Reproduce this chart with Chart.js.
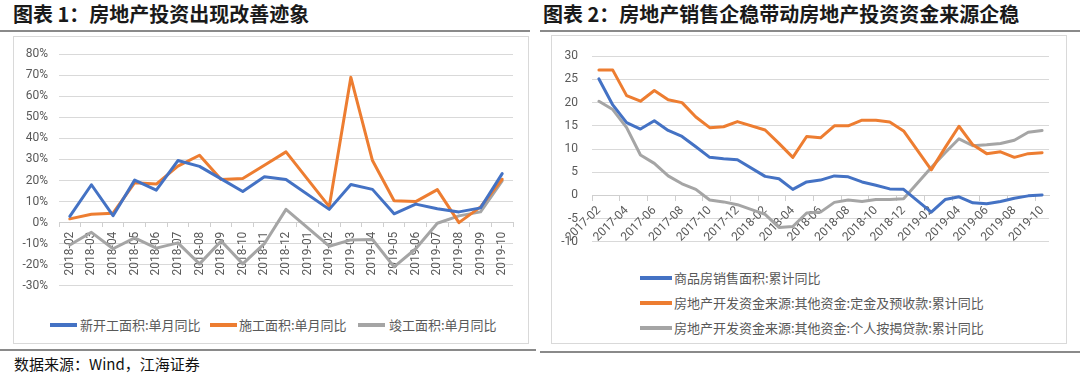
<!DOCTYPE html>
<html><head><meta charset="utf-8">
<script src="https://cdn.jsdelivr.net/npm/chart.js@4.4.1/dist/chart.umd.min.js"></script>
<style>
body{margin:0;background:#fff;width:1080px;height:374px;overflow:hidden;position:relative;font-family:"Noto Sans CJK SC",sans-serif;}
.abs{position:absolute}
.title{font-size:20px;font-weight:bold;line-height:20px;color:#1a1a1a;white-space:nowrap}
.hline{height:2px;background:#8a8a8a}
.box{border:1px solid #d9d9d9;box-sizing:border-box}
.leg{font-size:13px;color:#595959;line-height:16px;white-space:nowrap}
.sw{height:4px}
.src{font-size:15px;line-height:16px;color:#111;white-space:nowrap}
</style></head>
<body>
<div class="abs title" style="left:13px;top:4px">图表 1：房地产投资出现改善迹象</div>
<div class="abs hline" style="left:0;top:30px;width:530px"></div>
<div class="abs box" style="left:13px;top:36px;width:516px;height:308px"></div>
<canvas id="c1" class="abs" width="516" height="268" style="left:13px;top:36px"></canvas>
<div class="abs sw" style="left:50px;top:323px;width:27px;background:#4472C4"></div>
<div class="abs leg" style="left:80px;top:317px">新开工面积:单月同比</div>
<div class="abs sw" style="left:210px;top:323px;width:27px;background:#ED7D31"></div>
<div class="abs leg" style="left:239px;top:317px">施工面积:单月同比</div>
<div class="abs sw" style="left:358px;top:323px;width:27px;background:#A5A5A5"></div>
<div class="abs leg" style="left:389px;top:317px">竣工面积:单月同比</div>
<div class="abs hline" style="left:0;top:349px;width:536px"></div>
<div class="abs src" style="left:14px;top:356px">数据来源：Wind，江海证券</div>

<div class="abs title" style="left:543px;top:4px">图表 2：房地产销售企稳带动房地产投资资金来源企稳</div>
<div class="abs hline" style="left:540px;top:30px;width:540px"></div>
<div class="abs box" style="left:551px;top:35px;width:516px;height:309px"></div>
<canvas id="c2" class="abs" width="516" height="228" style="left:551px;top:35px"></canvas>
<div class="abs sw" style="left:640px;top:276px;width:32px;background:#4472C4"></div>
<div class="abs leg" style="left:674px;top:270px">商品房销售面积:累计同比</div>
<div class="abs sw" style="left:640px;top:301px;width:32px;background:#ED7D31"></div>
<div class="abs leg" style="left:674px;top:295px">房地产开发资金来源:其他资金:定金及预收款:累计同比</div>
<div class="abs sw" style="left:640px;top:326px;width:32px;background:#A5A5A5"></div>
<div class="abs leg" style="left:674px;top:320px">房地产开发资金来源:其他资金:个人按揭贷款:累计同比</div>
<div class="abs hline" style="left:540px;top:351px;width:540px"></div>

<script>
// ---- Chart 1 data ----
const categories1 = ['2018-02','2018-03','2018-04','2018-05','2018-06','2018-07','2018-08','2018-09','2018-10','2018-11','2018-12','2019-01','2019-02','2019-03','2019-04','2019-05','2019-06','2019-07','2019-08','2019-09','2019-10'];
const newStart = [3, 18, 3.3, 20.2, 15.4, 29.5, 26.7, 20.8, 14.8, 21.8, 20.5, null, 6.3, 18.1, 15.8, 4.2, 8.8, 6.6, 5.1, 7, 23.3];
const underConstruction = [1.8, 4, 4.5, 19, 18.3, 26.8, 32, 20.5, 21, 27.3, 33.6, null, 7.6, 69, 29.5, 10.4, 10, 15.7, 0, 7.5, 20.6];
const completed = [-10.6, -4.6, -12.4, -7.2, -12.1, -9.6, -19.6, -8.7, -19.6, -10, 6.3, null, -11.2, -8.2, -8, -21, -12.4, -0.3, 3.2, 5.1, 19.8];
const yTicks1 = {min: -30, max: 80, step: 10};
const names1 = ['新开工面积:单月同比','施工面积:单月同比','竣工面积:单月同比'];

// ---- Chart 2 data ----
const categories2 = ['2017-02','2017-03','2017-04','2017-05','2017-06','2017-07','2017-08','2017-09','2017-10','2017-11','2017-12','2018-01','2018-02','2018-03','2018-04','2018-05','2018-06','2018-07','2018-08','2018-09','2018-10','2018-11','2018-12','2019-01','2019-02','2019-03','2019-04','2019-05','2019-06','2019-07','2019-08','2019-09','2019-10'];
const salesArea = [25.1, 19.5, 15.7, 14.3, 16.1, 14.0, 12.7, 10.5, 8.2, 7.9, 7.7, null, 4.1, 3.6, 1.3, 2.9, 3.3, 4.2, 4.0, 2.9, 2.2, 1.4, 1.3, null, -3.6, -0.9, -0.3, -1.6, -1.8, -1.3, -0.6, -0.1, 0.1];
const deposits = [27.0, 27.0, 21.5, 20.3, 22.6, 20.6, 20.0, 16.9, 14.6, 14.8, 15.9, null, 14.1, 11.2, 8.2, 12.7, 12.4, 15.0, 15.0, 16.2, 16.2, 15.8, 13.9, null, 5.5, 10.3, 14.9, 10.9, 9.0, 9.4, 8.2, 9.0, 9.2];
const mortgages = [20.3, 18.5, 14.6, 8.7, 6.9, 4.2, 2.5, 1.3, -1.0, -1.4, -2.0, null, -4.1, -6.9, -6.7, -3.8, -3.6, -1.5, -1.0, -1.3, -0.9, -0.9, -0.7, null, 6.0, 9.2, 12.2, 10.7, 10.9, 11.2, 11.9, 13.6, 14.0];
const yTicks2 = {min: -10, max: 30, step: 5};
const names2 = ['商品房销售面积:累计同比','房地产开发资金来源:其他资金:定金及预收款:累计同比','房地产开发资金来源:其他资金:个人按揭贷款:累计同比'];

const colors = ['#4472C4', '#ED7D31', '#A5A5A5'];
const tickFont = {family: 'Roboto', size: 12};
const gridColor = '#d9d9d9';
const axisColor = '#cfcfcf';

function ds(label, data, i) {
  return {label, data, borderColor: colors[i], backgroundColor: colors[i], borderWidth: 3,
    pointRadius: 0, tension: 0, spanGaps: true, borderJoinStyle: 'round', borderCapStyle: 'round', fill: false};
}

new Chart(document.getElementById('c1'), {
  type: 'line',
  data: {labels: categories1, datasets: [ds(names1[0], newStart, 0), ds(names1[1], underConstruction, 1), ds(names1[2], completed, 2)]},
  options: {
    responsive: false, animation: false, devicePixelRatio: 1,
    layout: {padding: {left: 0, right: 16, top: 14, bottom: 9}},
    plugins: {legend: {display: false}, tooltip: {enabled: false}},
    scales: {
      x: {type: 'category', offset: true, position: {y: 0},
        grid: {offset: true, drawOnChartArea: false, drawTicks: true, tickLength: 4, tickColor: axisColor},
        border: {display: true, color: axisColor, width: 1},
        ticks: {autoSkip: false, minRotation: 90, maxRotation: 90, padding: 5, color: '#595959', font: tickFont}},
      y: {min: yTicks1.min, max: yTicks1.max,
        afterFit: s => { s.width = 46; },
        grid: {color: gridColor, drawTicks: false, lineWidth: 1},
        border: {display: false},
        ticks: {stepSize: yTicks1.step, padding: 11, color: '#595959', font: tickFont, callback: v => v + '%'}}
    }
  }
});

new Chart(document.getElementById('c2'), {
  type: 'line',
  data: {labels: categories2, datasets: [ds(names2[0], salesArea, 0), ds(names2[1], deposits, 1), ds(names2[2], mortgages, 2)]},
  options: {
    responsive: false, animation: false, devicePixelRatio: 1,
    layout: {padding: {left: 0, right: 18, top: 15, bottom: 14}},
    plugins: {legend: {display: false}, tooltip: {enabled: false}},
    scales: {
      x: {type: 'category', offset: true, position: {y: 0},
        grid: {offset: true, drawOnChartArea: false, drawTicks: true, tickLength: 5,
          tickColor: ctx => (ctx.index % 2 === 0 ? axisColor : 'rgba(0,0,0,0)')},
        border: {display: true, color: axisColor, width: 1},
        ticks: {autoSkip: false, minRotation: 45, maxRotation: 45, padding: 3, color: '#595959', font: tickFont,
          callback: function(v, i) { return i % 2 === 0 ? this.getLabelForValue(v) : ''; }}},
      y: {min: yTicks2.min, max: yTicks2.max,
        afterFit: s => { s.width = 41; },
        grid: {color: gridColor, drawTicks: false, lineWidth: 1},
        border: {display: false},
        ticks: {stepSize: yTicks2.step, padding: 14, color: '#595959', font: tickFont}}
    }
  }
});
</script>
</body></html>
